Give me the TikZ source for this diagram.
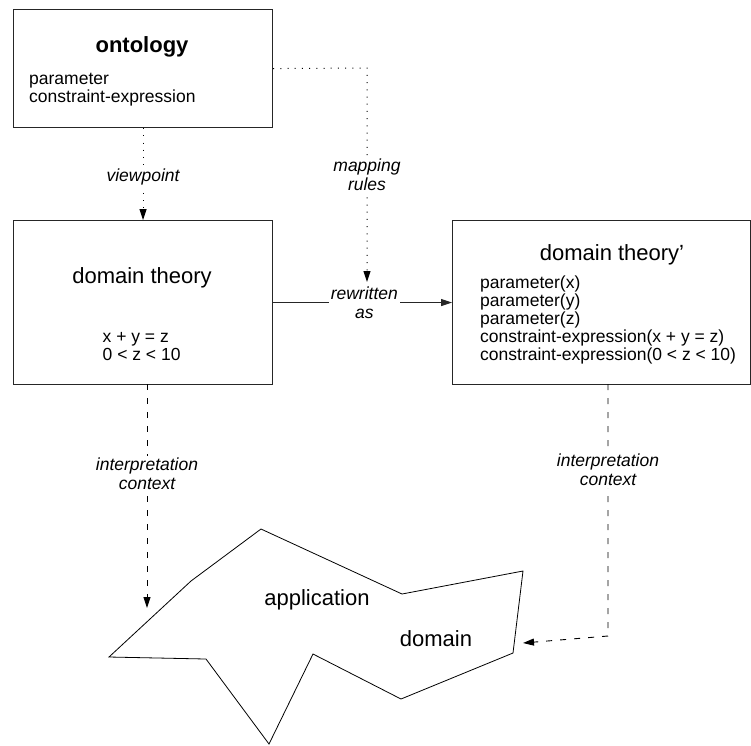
\documentclass[tikz,border=0pt]{standalone}
\usepackage{fontspec}
\setmainfont{Liberation Sans}
\usetikzlibrary{arrows.meta}
\begin{document}
\begin{tikzpicture}[x=1pt,y=-1pt,
  box/.style={draw=black!85, line width=1.1pt, inner sep=0pt, anchor=north west},
  big/.style={font=\fontsize{22}{24}\selectfont, inner sep=0pt},
  small/.style={font=\fontsize{17.5}{18}\selectfont, align=left, inner sep=0pt, anchor=west},
  lbl/.style={font=\fontsize{17.5}{19}\selectfont\itshape, fill=white, align=center, inner sep=2pt},
  dotline/.style={line width=1pt, dash pattern=on 1pt off 6.2pt},
  dashline/.style={line width=0.9pt, dash pattern=on 6pt off 8pt},
  arr/.style={-{Triangle[length=11pt,width=7pt]}},
  blob/.style={draw=black, line width=0.8pt, line join=miter}]
\useasboundingbox (0,0) rectangle (751,745);
% boxes
\node[box, minimum width=259pt, minimum height=118pt] (ont) at (13,9) {};
\node[box, minimum width=259pt, minimum height=164pt] (dt) at (13,220) {};
\node[box, minimum width=298pt, minimum height=164pt] (dtp) at (452,220) {};
% box texts
\node[big, font=\fontsize{22}{24}\selectfont\bfseries] (ontt) at (142,47) {ontology};
\node[small] (ontl) at (29,90) {parameter\\constraint-expression};
\node[big] (dtt) at (142,278) {domain theory};
\node[small] (dtl) at (102.5,347) {x + y = z\\0 < z < 10};
\node[big] (dtpt) at (612,255) {domain theory’};
\node[small] (dtpl) at (480,320) {parameter(x)\\parameter(y)\\parameter(z)\\constraint-expression(x + y = z)\\constraint-expression(0 < z < 10)};
% application domain shape
\draw[blob] (109,657) -- (191,581) -- (261,529) -- (402,594) -- (523,571) -- (513,653) -- (401,699) -- (313,654) -- (269,744) -- (206,659) -- cycle;
\node[big] (app) at (317,600) {application};
\node[big] (dom) at (436,639) {domain};
% connectors
\coordinate (mrcorner) at (367,68);
\coordinate (mrend) at (367,282);
\coordinate (ilstart) at (147,384);
\coordinate (ilend) at (147,608);
\coordinate (irstart) at (608,384);
\coordinate (ircorner) at (608,636);
\coordinate (irend) at (523,643);
\draw[dotline, arr] (ont.south) -- node[lbl, pos=0.53] (vp) {viewpoint} (dt.north);
\draw[dotline, arr] (ont.east) -- (mrcorner) -- node[lbl, pos=0.5] (mr) {mapping\\rules} (mrend);
\draw[line width=1.1pt, draw=black!85, arr] (dt.east) -- node[lbl, pos=0.51] (rw) {rewritten\\as} (dtp.west);
\draw[dashline, arr] (ilstart) -- node[lbl, pos=0.4] (ic1) {interpretation\\context} (ilend);
\draw[dashline, arr] (irstart) -- node[lbl, pos=0.34] (ic2) {interpretation\\context} (ircorner) -- (irend);
\end{tikzpicture}
\end{document}
